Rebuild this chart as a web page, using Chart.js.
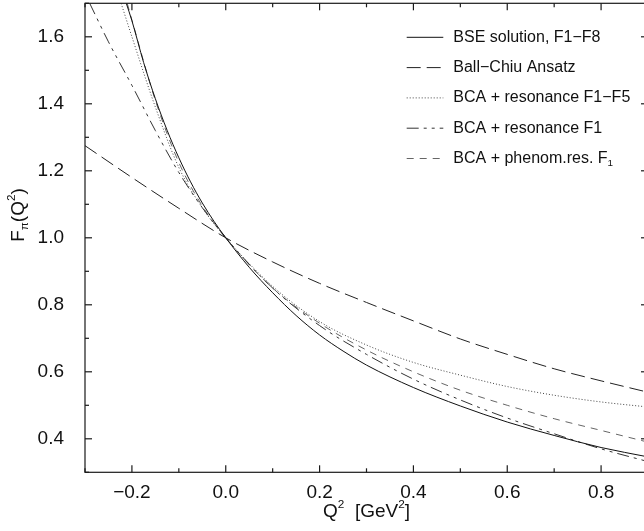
<!DOCTYPE html>
<html><head><meta charset="utf-8">
<script src="https://cdn.jsdelivr.net/npm/chart.js@4/dist/chart.umd.min.js"></script>
<style>
html,body{margin:0;padding:0;background:#fff;overflow:hidden;width:644px;height:531px}
#wrap{position:absolute;left:0;top:0;width:648px;height:531px}
</style></head><body>
<div id="wrap"><canvas id="c" width="648" height="531"></canvas></div>
<script>
// ---- data ----
const seriesLabels = [
  "BSE solution, F1\u2212F8",
  "Ball\u2212Chiu Ansatz",
  "BCA + resonance F1\u2212F5",
  "BCA + resonance F1",
  "BCA + phenom.res. F_{1}"
];
const qBSE = [-0.212,-0.2,-0.175,-0.15,-0.125,-0.1,-0.075,-0.05,-0.025,0,0.05,0.1,0.15,0.2,0.25,0.3,0.4,0.5,0.6,0.7,0.8,0.9];
const fBSE = [1.70,1.648,1.523,1.415,1.321,1.239,1.167,1.104,1.049,1.0,0.912,0.836,0.768,0.71,0.662,0.62,0.553,0.498,0.450,0.410,0.374,0.346];
const qBC  = [-0.3,-0.2,-0.1,0,0.1,0.2,0.3,0.4,0.5,0.6,0.7,0.8,0.9];
const fBC  = [1.275,1.18,1.088,1.0,0.928,0.864,0.807,0.752,0.698,0.652,0.609,0.573,0.539];
const qRes5 = [-0.223,-0.2,-0.15,-0.1,-0.05,0,0.1,0.2,0.3,0.4,0.5,0.6,0.7,0.8,0.9];
const fRes5 = [1.70,1.60,1.39,1.21,1.09,1.0,0.855,0.75,0.68,0.628,0.59,0.556,0.53,0.51,0.495];
const qRes1 = [-0.29,-0.25,-0.2,-0.15,-0.1,-0.05,0,0.1,0.2,0.3,0.4,0.5,0.6,0.7,0.8,0.9];
const fRes1 = [1.70,1.585,1.455,1.32,1.195,1.09,1.0,0.85,0.738,0.652,0.578,0.516,0.462,0.415,0.370,0.332];
const qPhen = [-0.21,-0.2,-0.15,-0.1,-0.05,0,0.1,0.2,0.3,0.4,0.5,0.6,0.7,0.8,0.9];
const fPhen = [1.70,1.65,1.41,1.225,1.095,1.0,0.85,0.745,0.665,0.6,0.545,0.5,0.46,0.425,0.39];
const xTitle = "Q^{2}  [GeV^{2}]";
const yTitle = "F_{\u03c0}(Q^{2})";
const xMin = -0.3, xMax = 0.9, yMin = 0.3, yMax = 1.7;

// ---- styles ----
const styles = [
  {color:'#111', dash:[]},
  {color:'#222', dash:[14,6]},
  {color:'#444', dash:[1,2]},
  {color:'#333', dash:[12,5,3,5,3,5]},
  {color:'#666', dash:[7,6]}
];
const FONT = '"Liberation Sans", Arial, Helvetica, sans-serif';

function pts(q,f){ return q.map((v,i)=>({x:v,y:f[i]})); }
const allData = [pts(qBSE,fBSE), pts(qBC,fBC), pts(qRes5,fRes5), pts(qRes1,fRes1), pts(qPhen,fPhen)];

const datasets = allData.map((d,i)=>({
  label: seriesLabels[i], data: d,
  borderColor: styles[i].color, borderDash: styles[i].dash, borderWidth: 1,
  pointRadius: 0, fill:false, cubicInterpolationMode:'monotone'
}));

function isMajor(v){ return Math.abs(Math.round(v*10)) % 2 === 0; }
function fmt(v){ const s = Math.abs(v).toFixed(1); return (v < -1e-9 ? '\u2212' : '') + s; }

function parseRich(s){
  const out=[]; const re=/([_^])\{([^}]*)\}/g; let last=0, m;
  while((m=re.exec(s))){ if(m.index>last) out.push({t:s.slice(last,m.index),k:''}); out.push({t:m[2],k:m[1]}); last=re.lastIndex; }
  if(last<s.length) out.push({t:s.slice(last),k:''});
  return out;
}
function richWidth(ctx,segs,size){
  let w=0; segs.forEach(g=>{ ctx.font=(g.k?size*0.62:size)+'px '+FONT; w+=ctx.measureText(g.t).width; }); return w;
}
function drawRich(ctx,s,x,y,size,align){
  const segs=parseRich(s); const w=richWidth(ctx,segs,size);
  let cx = align==='center'? x-w/2 : x;
  ctx.textBaseline='middle'; ctx.textAlign='left';
  segs.forEach(g=>{
    const sz = g.k? size*0.62 : size; ctx.font=sz+'px '+FONT;
    const dy = g.k==='_'? size*0.28 : (g.k==='^'? -size*0.38 : 0);
    ctx.fillText(g.t,cx,y+dy); cx+=ctx.measureText(g.t).width;
  });
}

const framePlugin = {
  id:'frame',
  afterDraw(chart){
    const {ctx, chartArea:a, scales:{x,y}} = chart;
    ctx.save();
    ctx.strokeStyle='#1a1a1a'; ctx.lineWidth=1.2; ctx.setLineDash([]);
    ctx.strokeRect(a.left, a.top, a.right-a.left, a.bottom-a.top);
    const ln=(x1,y1,x2,y2)=>{ctx.beginPath();ctx.moveTo(x1,y1);ctx.lineTo(x2,y2);ctx.stroke();};
    x.ticks.forEach(t=>{ const px=x.getPixelForValue(t.value); const L=isMajor(t.value)?7:4;
      ln(px,a.bottom,px,a.bottom-L); ln(px,a.top,px,a.top+L); });
    y.ticks.forEach(t=>{ const py=y.getPixelForValue(t.value); const L=isMajor(t.value)?7:4;
      ln(a.left,py,a.left+L,py); ln(a.right,py,a.right-L,py); });
    // axis titles
    ctx.fillStyle='#111';
    drawRich(ctx, xTitle, (a.left+a.right)/2, 512, 19, 'center');
    ctx.save(); ctx.translate(19, 215); ctx.rotate(-Math.PI/2);
    drawRich(ctx, yTitle, 0, 0, 19, 'center'); ctx.restore();
    // legend
    const x0=406.7, x1=443.3, tx=453.3, y0=37.3, dy=30.3;
    chart.data.datasets.forEach((ds,i)=>{
      const yy=y0+i*dy;
      ctx.strokeStyle=ds.borderColor; ctx.lineWidth=1; ctx.setLineDash(ds.borderDash||[]);
      ln(x0,yy,x1,yy); ctx.setLineDash([]);
      ctx.fillStyle='#111';
      drawRich(ctx, ds.label, tx, yy, 16, 'left');
    });
    ctx.restore();
  }
};

new Chart(document.getElementById('c'), {
  type:'line',
  data:{datasets},
  options:{
    responsive:false, animation:false,
    layout:{autoPadding:false, padding:{top:3.3,right:0,left:0,bottom:0}},
    plugins:{legend:{display:false}, tooltip:{enabled:false}},
    scales:{
      x:{type:'linear', min:xMin, max:xMax,
         afterFit(s){ s.height = 58.7; s.paddingLeft=0; s.paddingRight=0; },
         ticks:{stepSize:0.1, autoSkip:false, maxRotation:0, padding:1, color:'#111',
                font:{family:FONT, size:19}, callback:(v)=> isMajor(v)? fmt(v) : ''},
         grid:{display:false}, border:{display:false}},
      y:{type:'linear', min:yMin, max:yMax,
         afterFit(s){ s.width = 85; s.paddingTop=0; s.paddingBottom=0; },
         ticks:{stepSize:0.1, autoSkip:false, padding:13, color:'#111',
                font:{family:FONT, size:19}, callback:(v)=> isMajor(v)? v.toFixed(1) : ''},
         grid:{display:false}, border:{display:false}}
    }
  },
  plugins:[framePlugin]
});
</script>
</body></html>
